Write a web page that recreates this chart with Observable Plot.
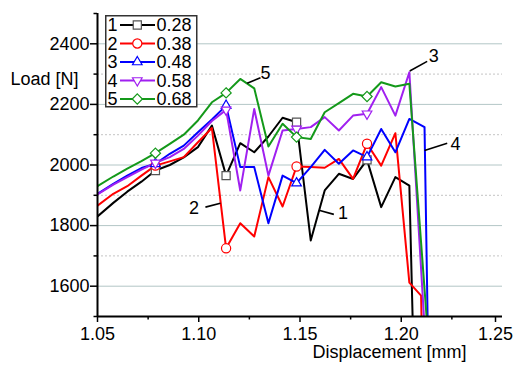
<!DOCTYPE html>
<html><head><meta charset="utf-8">
<script src="https://cdn.jsdelivr.net/npm/d3@7"></script>
<script src="https://cdn.jsdelivr.net/npm/@observablehq/plot@0.6"></script>
<style>
body{margin:0;background:#fff;}
#chart{position:relative;width:515px;height:365px;font-family:"Liberation Sans",Arial,sans-serif;}
#legend{position:absolute;left:105px;top:15px;}
</style></head><body><div id="chart"></div>
<script>
// shared displacement samples [mm]
const displacement = [1.0500,1.0578,1.0647,1.0717,1.0786,1.0857,1.0926,1.0996,1.1065,1.1135,1.1205,1.1274,1.1344,1.1414,1.1483,1.1553,1.1622,1.1692,1.1762,1.1831,1.1901,1.1971,1.2040];
const seriesIds = ["1","2","3","4","5"];
const seriesValues = ["0.28","0.38","0.48","0.58","0.68"];
const colors = ["#000000","#ff0000","#0000ff","#a020f0","#14991a"];
const markerStroke = ["#555555","#ff0000","#0000ff","#a020f0","#14991a"];
const symbols = ["square","circle","triangle2","triangle2","diamond2"];
const rotations = [0,0,0,180,0];
// load [N]
const load1 = [1830,1875,1912,1945,1982,2000,2025,2059,2130,1965,2072,2042,2094,2156,2141,1751,1916,1971,1954,2017,1861,1960,1932];
const load2 = [1866,1905,1930,1965,1998,2012,2026,2075,2122,1725,1808,1764,1960,1863,1995,1993,1991,2020,1954,2070,1998,2105,1612];
const load3 = [1905,1938,1965,1990,2004,2037,2064,2108,2150,2196,1993,1993,1808,1965,1940,1993,2050,2004,2048,2026,2119,2042,2152];
const load4 = [1903,1935,1960,1985,2007,2026,2053,2097,2145,2182,1916,2185,1965,2114,2119,2125,2158,2114,2163,2169,2257,2163,2306];
const load5 = [1930,1962,1988,2013,2039,2070,2100,2147,2207,2238,2284,2253,2061,2136,2092,2086,2174,2204,2235,2226,2273,2259,2268];
// failure tails
const tailX = [[1.2056],[1.2098,1.2100],[1.2115,1.2130],[1.2112],[1.2125]];
const tailY = [[1500],[1569,1500],[2125,1500],[1500],[1500]];
const markerIndex = [4,9,14,19];
// axis ticks
const xTicks = [1.05,1.10,1.15,1.20];
const xLast = [1.25];
const xMinor = [1.075,1.125,1.175,1.225];
const yTicks = [1600,1800,2000,2200,2400];
const yMinor = [1500,1700,1900,2100,2300,2500];
// annotations
const annLabel = ["1","2","3","4","5"];
const annX = [1.1712,1.0976,1.2161,1.2268,1.1330];
const annY = [1840,1858,2358,2070,2303];
const leadX1 = [1.1598,1.1033,1.2042,1.2115,1.1239];
const leadY1 = [1850,1861,2310,2048,2270];
const leadX2 = [1.1667,1.1107,1.2128,1.2227,1.1305];
const leadY2 = [1837,1874,2342,2072,2288];

const loads = [load1,load2,load3,load4,load5];
const rows = [];
loads.forEach((arr,i)=>{
  arr.forEach((v,k)=>rows.push({s:seriesIds[i], x:displacement[k], y:v, k}));
  tailX[i].forEach((tx,j)=>rows.push({s:seriesIds[i], x:tx, y:tailY[i][j], k:-1}));
});
const markers = rows.filter(d=>markerIndex.includes(d.k));
const ann = annLabel.map((t,i)=>({t, x:annX[i], y:annY[i], x1:leadX1[i], y1:leadY1[i], x2:leadX2[i], y2:leadY2[i]}));

const font = '"Liberation Sans",Arial,sans-serif';
const plot = Plot.plot({
  width:515, height:365, marginLeft:97, marginRight:13, marginTop:13, marginBottom:49,
  style:{fontFamily:font, fontSize:"18px", background:"#fff", color:"#000", overflow:"visible"},
  x:{domain:[1.05,1.25]},
  y:{domain:[1500,2500]},
  color:{domain:seriesIds, range:colors},
  marks:[
    Plot.gridY(yMinor.filter(v=>v>1500 && v<2500), {stroke:"#c4c4c4", strokeOpacity:1, strokeDasharray:"2,2"}),
    Plot.gridY(yTicks, {stroke:"#b3c6c6", strokeOpacity:1}),
    Plot.axisX(xTicks, {tickSize:6, tickPadding:5, tickFormat:d=>d.toFixed(2), label:null, strokeWidth:1.5}),
    Plot.axisX(xLast, {tickSize:6, tickPadding:5, tickFormat:d=>d.toFixed(2), label:null, strokeWidth:1.5, dx:-7}),
    Plot.axisX(xMinor, {tickSize:3.5, tickFormat:()=>"", label:null, strokeWidth:1.5}),
    Plot.axisY(yTicks, {tickSize:7, tickPadding:1, tickFormat:d=>String(d), label:null, strokeWidth:1.5}),
    Plot.axisY(yMinor, {tickSize:3.5, tickFormat:()=>"", label:null, strokeWidth:1.5}),
    Plot.line(rows, {x:"x", y:"y", z:"s", stroke:"s", strokeWidth:2, clip:true}),
    ...seriesIds.map((id,i)=>Plot.dot(markers.filter(d=>d.s===id), {x:"x", y:"y", symbol:symbols[i], rotate:rotations[i], r:4.6, fill:"white", stroke:markerStroke[i], strokeWidth:1.2})),
    Plot.ruleX([1.05], {strokeWidth:2}),
    Plot.ruleY([1500], {strokeWidth:2}),
    Plot.link(ann, {x1:"x1", y1:"y1", x2:"x2", y2:"y2", stroke:"#000", strokeWidth:1.6}),
    Plot.text(ann, {x:"x", y:"y", text:"t", fontSize:18}),
    Plot.text(["Displacement [mm]"], {frameAnchor:"bottom", dx:89.5, dy:41.3, text:d=>d, fontSize:18}),
    Plot.text(["Load [N]"], {frameAnchor:"top-left", textAnchor:"start", dx:-87, dy:59, text:d=>d, fontSize:18})
  ]
});
const chart = document.getElementById("chart");
chart.appendChild(plot);

// legend
const leg = d3.select(chart).append("svg").attr("id","legend").attr("width",93).attr("height",93)
  .style("font-family", font).style("font-size","18px");
leg.append("rect").attr("x",0.75).attr("y",0.75).attr("width",91).attr("height",91)
  .attr("fill","#fff").attr("stroke","#333").attr("stroke-width",1.5);
const symMap = {square:d3.symbolSquare, circle:d3.symbolCircle, triangle2:d3.symbolTriangle2, diamond2:d3.symbolDiamond2};
seriesIds.forEach((id,i)=>{
  const y = 10 + i*18.5;
  const g = leg.append("g");
  g.append("text").attr("x",7.5).attr("y",y).attr("dy","0.35em").attr("text-anchor","middle").text(id);
  g.append("line").attr("x1",15).attr("x2",50).attr("y1",y).attr("y2",y).attr("stroke",colors[i]).attr("stroke-width",2);
  g.append("path").attr("d", d3.symbol(symMap[symbols[i]], 66)())
    .attr("transform",`translate(32.3,${y}) rotate(${rotations[i]})`)
    .attr("fill","#fff").attr("stroke",markerStroke[i]).attr("stroke-width",1.2);
  g.append("text").attr("x",51.5).attr("y",y).attr("dy","0.35em").text(seriesValues[i]);
});
</script></body></html>
